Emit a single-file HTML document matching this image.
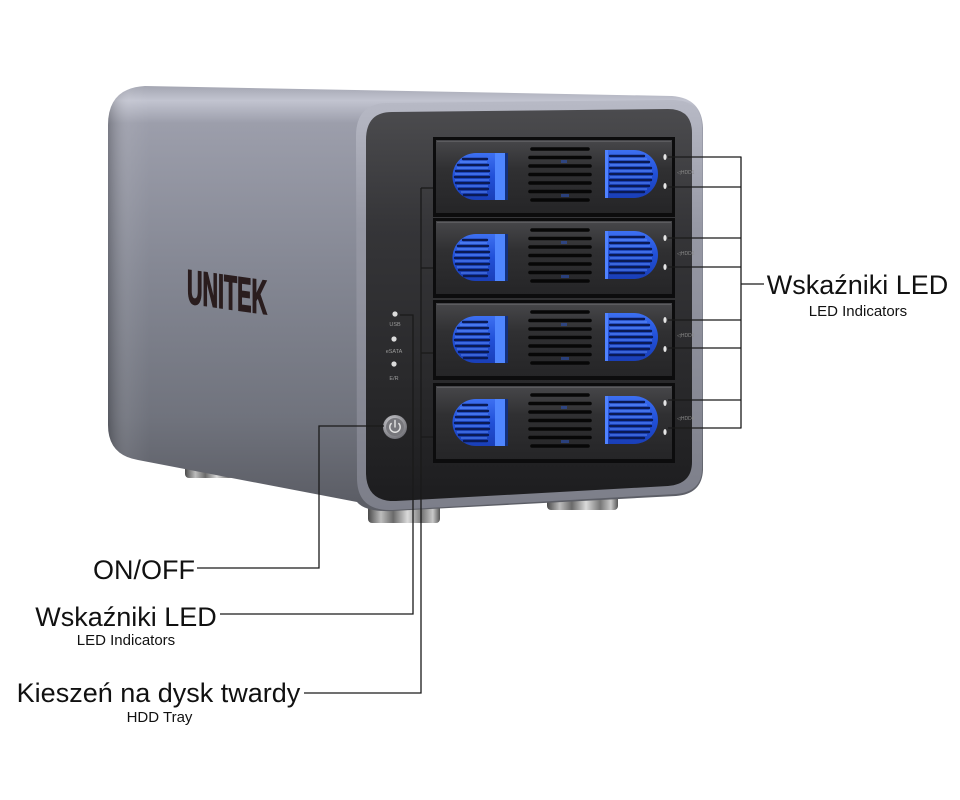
<!DOCTYPE html>
<html><head><meta charset="utf-8">
<style>
html,body{margin:0;padding:0;background:#fff;}
svg{display:block;}
text{font-family:"Liberation Sans",Arial,sans-serif;}
</style></head><body>
<svg width="960" height="800" viewBox="0 0 960 800" xmlns="http://www.w3.org/2000/svg">
<defs>
 <linearGradient id="side" x1="0" y1="86" x2="0" y2="500" gradientUnits="userSpaceOnUse">
  <stop offset="0" stop-color="#a4a6b2"/>
  <stop offset="0.035" stop-color="#c2c4d0"/>
  <stop offset="0.09" stop-color="#9c9eab"/>
  <stop offset="0.45" stop-color="#848793"/>
  <stop offset="0.8" stop-color="#70737d"/>
  <stop offset="1" stop-color="#5c5e66"/>
 </linearGradient>
 <linearGradient id="sideL" x1="108" y1="0" x2="150" y2="0" gradientUnits="userSpaceOnUse">
  <stop offset="0" stop-color="#000" stop-opacity="0.22"/>
  <stop offset="0.5" stop-color="#fff" stop-opacity="0.06"/>
  <stop offset="1" stop-color="#fff" stop-opacity="0"/>
 </linearGradient>
 <linearGradient id="frame" x1="0" y1="100" x2="0" y2="512" gradientUnits="userSpaceOnUse">
  <stop offset="0" stop-color="#b8bac6"/>
  <stop offset="0.3" stop-color="#9799a5"/>
  <stop offset="1" stop-color="#7c7e89"/>
 </linearGradient>
 <linearGradient id="panel" x1="0" y1="110" x2="0" y2="502" gradientUnits="userSpaceOnUse">
  <stop offset="0" stop-color="#4b4b4e"/>
  <stop offset="0.3" stop-color="#353538"/>
  <stop offset="0.7" stop-color="#29292b"/>
  <stop offset="1" stop-color="#1d1d1f"/>
 </linearGradient>
 <linearGradient id="tray" x1="0" y1="0" x2="0" y2="1">
  <stop offset="0" stop-color="#47474a"/>
  <stop offset="0.4" stop-color="#303032"/>
  <stop offset="1" stop-color="#252527"/>
 </linearGradient>
 <linearGradient id="foot" x1="0" y1="0" x2="1" y2="0">
  <stop offset="0" stop-color="#4a4a4a"/>
  <stop offset="0.18" stop-color="#bdbdbd"/>
  <stop offset="0.35" stop-color="#6a6a6a"/>
  <stop offset="0.55" stop-color="#dadada"/>
  <stop offset="0.75" stop-color="#777"/>
  <stop offset="0.9" stop-color="#c8c8c8"/>
  <stop offset="1" stop-color="#555"/>
 </linearGradient>
 <linearGradient id="blue" x1="0" y1="0" x2="0" y2="1">
  <stop offset="0" stop-color="#3d70f2"/>
  <stop offset="0.5" stop-color="#2150d8"/>
  <stop offset="1" stop-color="#1a3fb8"/>
 </linearGradient>
 <radialGradient id="btn" cx="0.4" cy="0.35" r="0.7">
  <stop offset="0" stop-color="#d8d8dc"/>
  <stop offset="1" stop-color="#6c6c72"/>
 </radialGradient>
 <g id="trayG">
  <rect x="0" y="0" width="242" height="80" fill="#0c0c0d"/>
  <rect x="3" y="3" width="236" height="73" fill="url(#tray)"/>
  <line x1="4" y1="4.5" x2="238" y2="4.5" stroke="#5c5c5f" stroke-width="1"/>
  <path d="M43,16 L75,16 L75,63 L43,63 A23.5,23.5 0 0 1 43,16 Z" fill="url(#blue)"/>
  <rect x="62" y="16" width="10" height="47" fill="#4f86ff"/>
  <rect x="72" y="16" width="3" height="47" fill="#12307e"/>
  <g stroke="#0a1a55" stroke-width="2.4" stroke-linecap="round">
   <line x1="30" y1="22" x2="54" y2="22"/>
   <line x1="25" y1="28" x2="55" y2="28"/>
   <line x1="23" y1="34" x2="56" y2="34"/>
   <line x1="22" y1="40" x2="56" y2="40"/>
   <line x1="23" y1="46" x2="56" y2="46"/>
   <line x1="26" y1="52" x2="55" y2="52"/>
   <line x1="31" y1="58" x2="54" y2="58"/>
  </g>
  <g stroke="#6e9cff" stroke-width="1" opacity="0.7">
   <line x1="27" y1="25" x2="54" y2="25"/>
   <line x1="24" y1="31" x2="55" y2="31"/>
   <line x1="22" y1="37" x2="56" y2="37"/>
   <line x1="22" y1="43" x2="56" y2="43"/>
   <line x1="24" y1="49" x2="55" y2="49"/>
   <line x1="28" y1="55" x2="54" y2="55"/>
  </g>
  <g stroke="#070707" stroke-width="3.6" stroke-linecap="round">
   <line x1="99" y1="12" x2="155" y2="12"/>
   <line x1="97" y1="20.5" x2="157" y2="20.5"/>
   <line x1="97" y1="29" x2="157" y2="29"/>
   <line x1="97" y1="37.5" x2="157" y2="37.5"/>
   <line x1="97" y1="46" x2="157" y2="46"/>
   <line x1="97" y1="54.5" x2="157" y2="54.5"/>
   <line x1="99" y1="63" x2="155" y2="63"/>
  </g>
  <g fill="#2a4fb0" opacity="0.6">
   <rect x="128" y="23" width="6" height="3"/>
   <rect x="128" y="57" width="8" height="3"/>
  </g>
  <path d="M172,13 L201,13 A24,24 0 0 1 201,61 L172,61 Z" fill="url(#blue)"/>
  <rect x="172" y="13" width="3" height="48" fill="#4f82ff"/>
  <g stroke="#0a1a55" stroke-width="2.4" stroke-linecap="round">
   <line x1="177" y1="19" x2="211" y2="19"/>
   <line x1="177" y1="25" x2="216" y2="25"/>
   <line x1="177" y1="31" x2="218" y2="31"/>
   <line x1="177" y1="37" x2="219" y2="37"/>
   <line x1="177" y1="43" x2="218" y2="43"/>
   <line x1="177" y1="49" x2="216" y2="49"/>
   <line x1="177" y1="55" x2="211" y2="55"/>
  </g>
  <g stroke="#6e9cff" stroke-width="1" opacity="0.7">
   <line x1="177" y1="22" x2="214" y2="22"/>
   <line x1="177" y1="28" x2="217" y2="28"/>
   <line x1="177" y1="34" x2="219" y2="34"/>
   <line x1="177" y1="40" x2="219" y2="40"/>
   <line x1="177" y1="46" x2="217" y2="46"/>
   <line x1="177" y1="52" x2="214" y2="52"/>
  </g>
  <ellipse cx="232" cy="20" rx="1.6" ry="3" fill="#e6e6e6"/>
  <ellipse cx="232" cy="49" rx="1.6" ry="3" fill="#e6e6e6"/>
 </g>
</defs>

<rect width="960" height="800" fill="#fff"/>

<rect x="185" y="452" width="58" height="26" rx="4" fill="url(#foot)"/>
<rect x="368" y="496" width="72" height="27" rx="4" fill="url(#foot)"/>
<rect x="547" y="486" width="71" height="24" rx="4" fill="url(#foot)"/>

<path d="M145,86 L672,96 Q702,98 703,128 L703,470 Q702,494 676,496 L392,511 Q365,512 357,502 L138,460 Q108,455 108,425 L108,125 Q108,88 145,86 Z" fill="url(#side)"/>
<path d="M145,86 L300,92 L300,470 L138,460 Q108,455 108,425 L108,125 Q108,88 145,86 Z" fill="url(#sideL)"/>

<path d="M386,103 L672,100 Q702,100 702,128 L702,468 Q702,492 676,494 L392,510 Q357,511 357,478 L356,136 Q356,104 386,103 Z" fill="url(#frame)"/>
<path d="M392,112 L668,109 Q692,109 692,133 L692,462 Q692,484 668,486 L396,501 Q367,502 366,474 L366,140 Q366,112 392,112 Z" fill="url(#panel)"/>

<g transform="translate(187,303) skewY(8)">
 <text x="0" y="0" font-size="48" font-weight="bold" fill="#2a1d1e" stroke="#2a1d1e" stroke-width="1.6" textLength="80" lengthAdjust="spacingAndGlyphs">UNITEK</text>
</g>

<use href="#trayG" transform="translate(433,137)"/>
<use href="#trayG" transform="translate(433,218)"/>
<use href="#trayG" transform="translate(433,300)"/>
<use href="#trayG" transform="translate(433,383)"/>

<g font-size="5" fill="#8a8a8a">
 <text x="677" y="174">◁HDD1</text>
 <text x="677" y="255">◁HDD2</text>
 <text x="677" y="337">◁HDD3</text>
 <text x="677" y="420">◁HDD4</text>
</g>

<circle cx="395" cy="314" r="2.6" fill="#dcdcdc"/>
<circle cx="394" cy="339" r="2.6" fill="#dcdcdc"/>
<circle cx="394" cy="364" r="2.6" fill="#dcdcdc"/>
<g font-size="5.5" fill="#9a9a9a" text-anchor="middle">
 <text x="395" y="326">USB</text>
 <text x="394" y="353">eSATA</text>
 <text x="394" y="380">E/R</text>
</g>

<circle cx="395" cy="427" r="12" fill="url(#btn)"/>
<circle cx="395" cy="427" r="9" fill="#77777c"/>
<path d="M391.2,423.5 A5.2,5.2 0 1 0 398.8,423.5" fill="none" stroke="#e4e4e4" stroke-width="1.4" stroke-linecap="round"/>
<line x1="395" y1="420.5" x2="395" y2="427" stroke="#e4e4e4" stroke-width="1.4" stroke-linecap="round"/>

<g fill="none" stroke="#1a1a1a" stroke-width="1.3">
 <line x1="668" y1="157" x2="741" y2="157"/>
 <line x1="668" y1="187" x2="741" y2="187"/>
 <line x1="668" y1="238" x2="741" y2="238"/>
 <line x1="668" y1="267" x2="741" y2="267"/>
 <line x1="668" y1="320" x2="741" y2="320"/>
 <line x1="668" y1="348" x2="741" y2="348"/>
 <line x1="668" y1="400" x2="741" y2="400"/>
 <line x1="668" y1="428" x2="741" y2="428"/>
 <line x1="741" y1="156.5" x2="741" y2="428.5"/>
 <line x1="741" y1="284" x2="764" y2="284"/>
 <polyline points="197,568 319,568 319,426 384,426"/>
 <polyline points="220,614 413,614 413,315 400,315"/>
 <polyline points="304,693 421,693 421,188"/>
 <line x1="421" y1="188" x2="433" y2="188"/>
 <line x1="421" y1="268" x2="433" y2="268"/>
 <line x1="421" y1="353" x2="433" y2="353"/>
 <line x1="421" y1="437" x2="433" y2="437"/>
</g>

<g fill="#111" text-anchor="middle">
 <text x="857.5" y="294" font-size="27">Wskaźniki LED</text>
 <text x="858" y="316" font-size="15">LED Indicators</text>
 <text x="144" y="579" font-size="27">ON/OFF</text>
 <text x="126" y="626" font-size="27">Wskaźniki LED</text>
 <text x="126" y="645" font-size="15">LED Indicators</text>
 <text x="158.5" y="702" font-size="27">Kieszeń na dysk twardy</text>
 <text x="159.5" y="722" font-size="15">HDD Tray</text>
</g>
</svg>
</body></html>
